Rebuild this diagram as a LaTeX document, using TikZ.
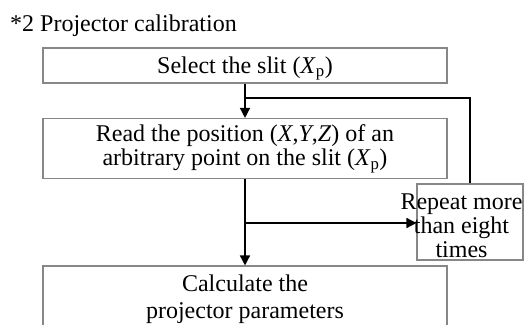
\documentclass[tikz,border=0pt]{standalone}
\usepackage{fontspec}
\setmainfont{Liberation Serif}
\usetikzlibrary{arrows.meta}
\definecolor{boxgray}{RGB}{135,135,135}
\tikzset{
  stepbox/.style={draw=boxgray, line width=1.1pt, rectangle, inner sep=0pt, align=center},
  conn/.style={line width=1.5pt, black},
  arr/.style={conn, -{Triangle[length=10pt,width=10pt]}},
  lbl/.style={inner sep=0pt, align=center}
}
\begin{document}
\begin{tikzpicture}[x=1pt,y=-1pt,font=\fontsize{24}{24}\selectfont]
\useasboundingbox (0,0) rectangle (524,324);
\clip (0,0) rectangle (524,324);

% heading
\node[anchor=base west, inner sep=0pt] (title) at (10,31) {*2 Projector calibration};

% process boxes
\node[stepbox, minimum width=404pt, minimum height=35pt, text height=19pt, text depth=4pt] (b1) at (245,65.5)
  {Select the slit (\textit{X}\textsubscript{p})};
\node[stepbox, minimum width=404pt, minimum height=60pt] (b2) at (245,148.5)
  {Read the position (\textit{X},\textit{Y},\textit{Z}) of an\\arbitrary point on the slit (\textit{X}\textsubscript{p})};
\node[stepbox, minimum width=404pt, minimum height=66pt] (b3) at (245,299)
  {Calculate the\\[3pt]projector parameters};

% loop counter box
\node[stepbox, minimum width=106pt, minimum height=76pt] (rep) at (470,222) {};
\node[lbl] (reptext) at (461.5,226) {Repeat more\\than eight\\times};

% junctions on the main line
\coordinate (j1) at (b1.south |- 0,98);
\coordinate (j2) at (b2.south |- 0,223);

% flow
\draw[arr] (b1.south) -- (b2.north);
\draw[arr] (b2.south) -- (b3.north);
\draw[arr] (j2) -- (j2 -| rep.west);
\draw[conn] (rep.north) |- (j1);
\end{tikzpicture}
\end{document}
